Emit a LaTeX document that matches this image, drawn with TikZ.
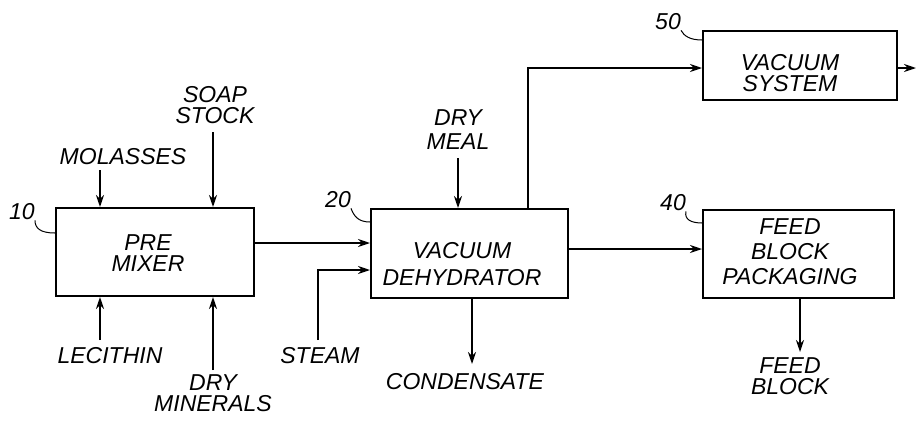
\documentclass[tikz,border=0pt]{standalone}
\usepackage{fontspec}
\setmainfont{Liberation Sans}
\usetikzlibrary{arrows.meta}
\begin{document}
\begin{tikzpicture}[x=1pt,y=-1pt,
  box/.style={draw,line width=2pt,inner sep=0pt},
  lbl/.style={font=\fontsize{23}{21}\selectfont\itshape,align=center,inner sep=0pt},
  flow/.style={line width=1.8pt,-{Stealth[length=12pt,width=8pt]}},
  lead/.style={line width=1pt}]
\useasboundingbox (0,0) rectangle (916,421);
% boxes
\node[box,minimum width=198pt,minimum height=88pt,anchor=north west] (b10) at (55,207) {};
\node[box,minimum width=197pt,minimum height=89pt,anchor=north west] (b20) at (370,208) {};
\node[box,minimum width=194pt,minimum height=69pt,anchor=north west] (b50) at (702,30) {};
\node[box,minimum width=191pt,minimum height=88pt,anchor=north west] (b40) at (702,209) {};
% box texts
\node[lbl] (t10) at (148,253) {PRE\\MIXER};
\node[lbl] (t20) at (462,264) {VACUUM\\[6pt]DEHYDRATOR};
\node[lbl] (t50) at (790,73) {VACUUM\\SYSTEM};
\node[lbl] (t40) at (790,252) {FEED\\[4pt]BLOCK\\[4pt]PACKAGING};
% reference numerals
\node[lbl] (n10) at (22,212) {10};
\node[lbl] (n20) at (338,200) {20};
\node[lbl] (n50) at (668,22) {50};
\node[lbl] (n40) at (673,203) {40};
\draw[lead] (n10.south east) .. controls (35,228) and (40,233) .. (b10.north west |- 0,233);
\draw[lead] (n20.south east) .. controls (354,216) and (358,222) .. (b20.north west |- 0,222);
\draw[lead] (n50.south east) .. controls (684,36) and (690,40) .. (b50.north west |- 0,40);
\draw[lead] (n40.south east) .. controls (684,220) and (692,223) .. (b40.north west |- 0,223);
% inputs to premixer
\node[lbl] (mol) at (123,157) {MOLASSES};
\node[lbl] (soap) at (215,105) {SOAP\\STOCK};
\node[lbl] (lec) at (110,356) {LECITHIN};
\node[lbl] (dm) at (213,393) {DRY\\MINERALS};
\coordinate (mols) at (100,170);
\coordinate (soaps) at (213,132);
\coordinate (lecs) at (100,340);
\coordinate (dms) at (213,370);
\draw[flow] (mols) -- (mols |- b10.north);
\draw[flow] (soaps) -- (soaps |- b10.north);
\draw[flow] (lecs) -- (lecs |- b10.south);
\draw[flow] (dms) -- (dms |- b10.south);
% premixer to dehydrator
\draw[flow] (b10.east |- 0,243) -- (b20.west |- 0,243);
% steam
\node[lbl] (steam) at (320,356) {STEAM};
\coordinate (st) at (318,340);
\draw[flow] (st) -- (318,270) -- (b20.west |- 0,270);
% dry meal
\node[lbl] (meal) at (458,130) {DRY\\[3pt]MEAL};
\coordinate (dmeal) at (458,158);
\draw[flow] (dmeal) -- (dmeal |- b20.north);
% condensate
\node[lbl] (cond) at (465,382) {CONDENSATE};
\coordinate (conde) at (472,364);
\draw[flow] (conde |- b20.south) -- (conde);
% to vacuum system
\draw[flow] (528,208) -- (528,68) -- (b50.west |- 0,68);
\coordinate (vout) at (916,68);
\draw[flow] (b50.east |- 0,68) -- (vout);
% to packaging
\draw[flow] (b20.east |- 0,249) -- (b40.west |- 0,249);
% feed block
\node[lbl] (fb) at (790,376) {FEED\\BLOCK};
\coordinate (fbe) at (800,352);
\draw[flow] (fbe |- b40.south) -- (fbe);
\end{tikzpicture}
\end{document}
